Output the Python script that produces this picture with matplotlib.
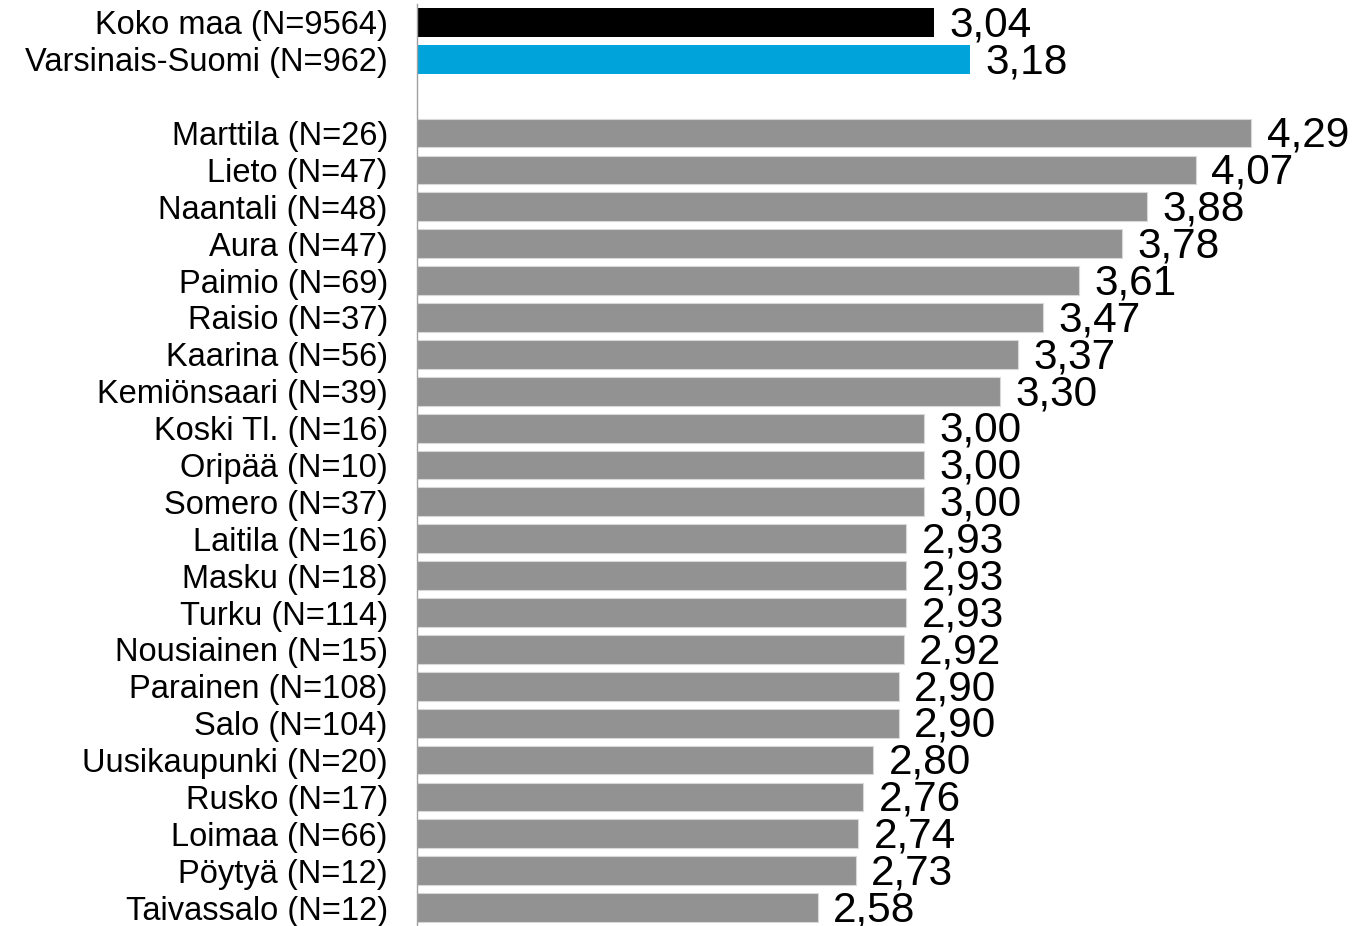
import matplotlib
matplotlib.use("Agg")
import matplotlib.pyplot as plt

plt.rcParams["font.family"] = ["Liberation Sans", "DejaVu Sans"]

# reference rows (shown on top) and municipalities
ref_labels = ["Koko maa (N=9564)", "Varsinais-Suomi (N=962)"]
ref_values = [3.04, 3.18]
ref_colors = ["#000000", "#00A3DA"]

mun_labels = [
    "Marttila (N=26)", "Lieto (N=47)", "Naantali (N=48)", "Aura (N=47)",
    "Paimio (N=69)", "Raisio (N=37)", "Kaarina (N=56)", "Kemiönsaari (N=39)",
    "Koski Tl. (N=16)", "Oripää (N=10)", "Somero (N=37)", "Laitila (N=16)",
    "Masku (N=18)", "Turku (N=114)", "Nousiainen (N=15)", "Parainen (N=108)",
    "Salo (N=104)", "Uusikaupunki (N=20)", "Rusko (N=17)", "Loimaa (N=66)",
    "Pöytyä (N=12)", "Taivassalo (N=12)",
]
mun_values = [
    4.29, 4.07, 3.88, 3.78, 3.61, 3.47, 3.37, 3.30, 3.00, 3.00, 3.00,
    2.93, 2.93, 2.93, 2.92, 2.90, 2.90, 2.80, 2.76, 2.74, 2.73, 2.58,
]
MUN_COLOR = "#929292"

labels = ref_labels + mun_labels
values = ref_values + mun_values
colors = ref_colors + [MUN_COLOR] * len(mun_labels)
# one empty slot between the reference rows and the municipalities
slots = list(range(len(ref_labels))) + [len(ref_labels) + 1 + i for i in range(len(mun_labels))]
n_slots = slots[-1] + 1

W, H = 1353, 926
fig = plt.figure(figsize=(W / 100, H / 100), dpi=100)
ax = fig.add_axes([417 / W, 0 / H, (W - 417) / W, (H - 4) / H])

XMIN = 1.0
lefts = [XMIN] * len(values)
widths = [v - XMIN for v in values]
edges = ["none"] * len(ref_labels) + ["#d8d8d8"] * len(mun_labels)
ax.barh(slots, widths, left=lefts, height=0.78, color=colors,
        edgecolor=edges, linewidth=0.8)

for s, v in zip(slots, values):
    ax.annotate(f"{v:.2f}".replace(".", ","), xy=(v, s), xytext=(11, -2),
                textcoords="offset points", ha="left", va="center",
                fontsize=30.5, color="#000000")

ax.set_xlim(XMIN, XMIN + (W - 417) / 253.6)
ax.set_ylim(n_slots - 0.5, -0.5)
ax.set_yticks(slots)
ax.set_yticklabels(labels, fontsize=23.5)
ax.tick_params(axis="y", length=0, pad=21)
ax.set_xticks([])

for side in ["top", "right", "bottom"]:
    ax.spines[side].set_visible(False)
ax.spines["left"].set_color("#a0a0a0")
ax.spines["left"].set_linewidth(1.0)

fig.savefig("out.png", dpi=100)
